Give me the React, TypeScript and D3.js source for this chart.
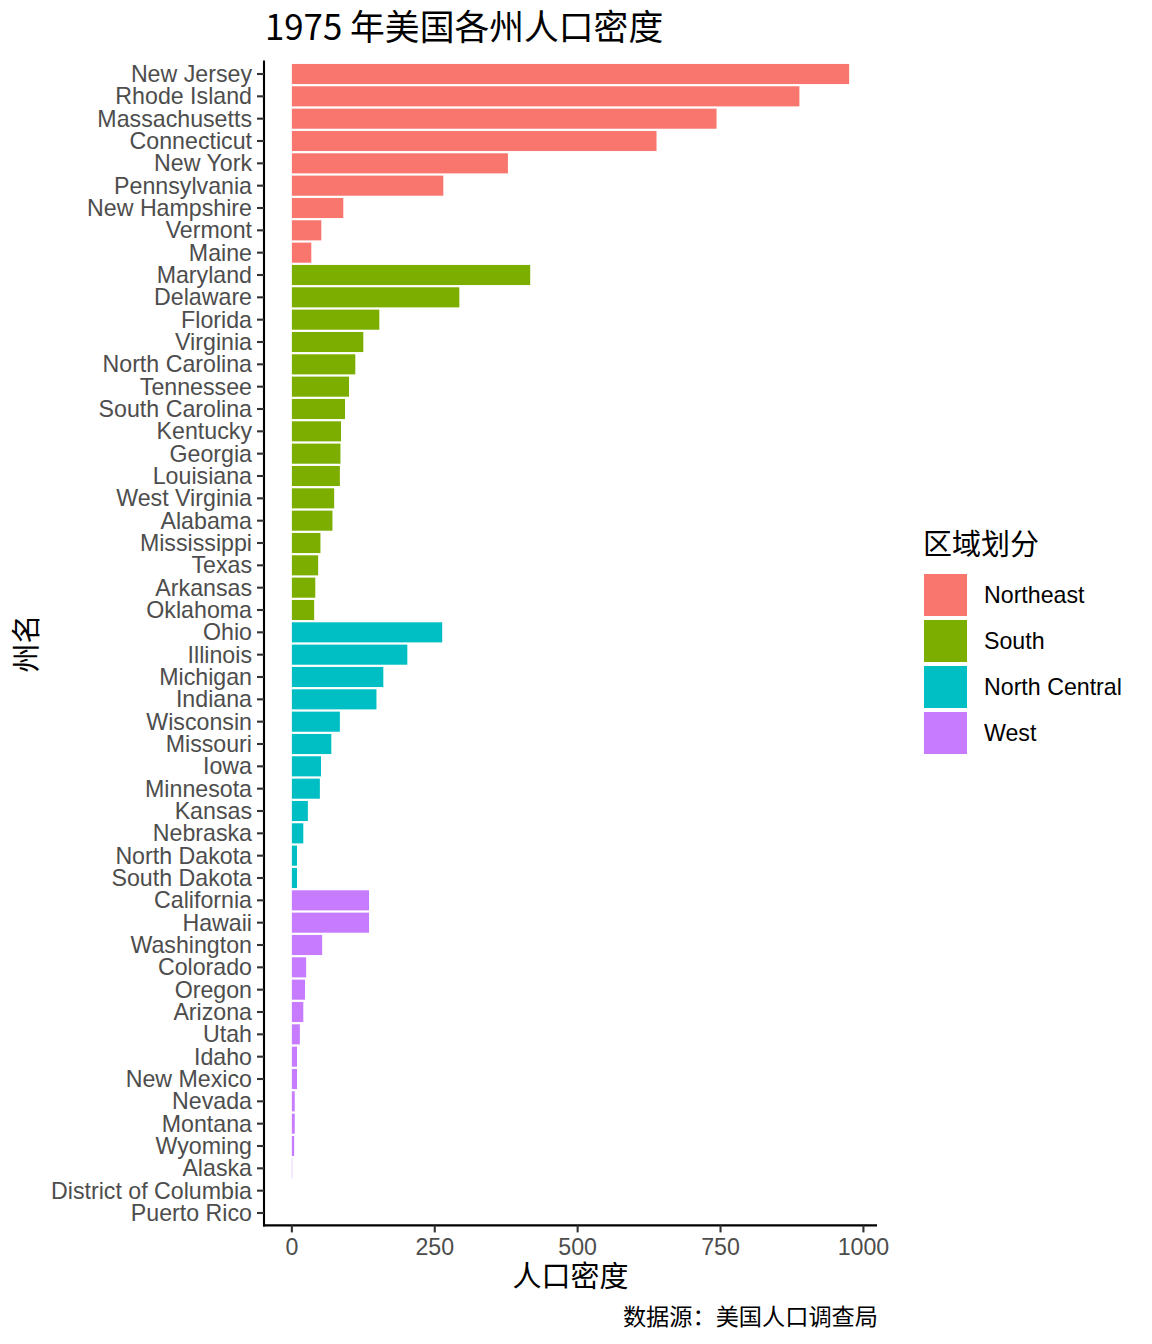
import React from "react";
import * as d3 from "d3";

// 1975 population density by state (people per square mile), grouped by region
const states = [
  "New Jersey", "Rhode Island", "Massachusetts", "Connecticut", "New York",
  "Pennsylvania", "New Hampshire", "Vermont", "Maine",
  "Maryland", "Delaware", "Florida", "Virginia", "North Carolina", "Tennessee",
  "South Carolina", "Kentucky", "Georgia", "Louisiana", "West Virginia",
  "Alabama", "Mississippi", "Texas", "Arkansas", "Oklahoma",
  "Ohio", "Illinois", "Michigan", "Indiana", "Wisconsin", "Missouri", "Iowa",
  "Minnesota", "Kansas", "Nebraska", "North Dakota", "South Dakota",
  "California", "Hawaii", "Washington", "Colorado", "Oregon", "Arizona", "Utah",
  "Idaho", "New Mexico", "Nevada", "Montana", "Wyoming", "Alaska",
  "District of Columbia", "Puerto Rico",
];

const regionOf = [
  "Northeast", "Northeast", "Northeast", "Northeast", "Northeast",
  "Northeast", "Northeast", "Northeast", "Northeast",
  "South", "South", "South", "South", "South", "South",
  "South", "South", "South", "South", "South",
  "South", "South", "South", "South", "South",
  "North Central", "North Central", "North Central", "North Central",
  "North Central", "North Central", "North Central",
  "North Central", "North Central", "North Central", "North Central", "North Central",
  "West", "West", "West", "West", "West", "West", "West",
  "West", "West", "West", "West", "West", "West",
  null, null,
];

const density: (number | null)[] = [
  975, 888, 743, 638, 378,
  265, 90, 51.5, 34,
  417, 293, 153, 125, 111, 100,
  93, 86, 85, 84, 74,
  71, 50, 46, 41, 39,
  263, 202, 160, 148, 84, 69, 51,
  49, 28, 20, 9, 9,
  135, 135, 53, 25, 23, 20, 14,
  9, 9, 5, 5, 4, 0.6,
  null, null,
];

const regions = ["Northeast", "South", "North Central", "West"];
const regionColors = ["#F8766D", "#7CAE00", "#00BFC4", "#C77CFF"];
const xTicks = [0, 250, 500, 750, 1000];

const W = 1152;
const H = 1344;
const panel = { left: 264, right: 877, top: 60.6, bottom: 1226.4 };

const latin = "'Liberation Sans', Arial, sans-serif";
const cjk = "'Noto Sans CJK SC', 'Noto Sans', sans-serif";

export default function App() {
  const maxVal = d3.max(density, (d) => d ?? 0) as number;
  const pad = maxVal * 0.05;
  const x = d3
    .scaleLinear()
    .domain([0 - pad, maxVal + pad])
    .range([panel.left, panel.right]);

  const y = d3
    .scalePoint<string>()
    .domain(states)
    .range([panel.top, panel.bottom])
    .padding(0.6);
  const barH = y.step() * 0.9;

  const color = d3.scaleOrdinal<string, string>().domain(regions).range(regionColors);

  const rows = states.map((s, i) => ({ state: s, region: regionOf[i], value: density[i] }));

  return (
    <svg
      width={W}
      height={H}
      style={{ position: "absolute", left: 0, top: 0, background: "#fff" }}
    >
      {/* title */}
      <text x={265} y={40} fontFamily={cjk} fontSize={34.8} fill="#000">
        1975 年美国各州人口密度
      </text>

      {/* bars */}
      {rows
        .filter((r) => r.value != null && r.region)
        .map((r) => (
          <rect
            key={r.state}
            x={x(0)}
            y={(y(r.state) as number) - barH / 2}
            width={x(r.value as number) - x(0)}
            height={barH}
            fill={color(r.region as string)}
          />
        ))}

      {/* y axis */}
      <line x1={panel.left} x2={panel.left} y1={panel.top} y2={panel.bottom} stroke="#000" strokeWidth={2.1} />
      {states.map((s) => (
        <g key={s} transform={`translate(0,${y(s)})`}>
          <line x1={panel.left - 7} x2={panel.left} stroke="#333" strokeWidth={2.1} />
          <text
            x={panel.left - 12}
            dy="0.35em"
            textAnchor="end"
            fontFamily={latin}
            fontSize={23.2}
            fill="#4D4D4D"
          >
            {s}
          </text>
        </g>
      ))}

      {/* x axis */}
      <line x1={panel.left - 1} x2={panel.right} y1={panel.bottom - 1} y2={panel.bottom - 1} stroke="#000" strokeWidth={2.1} />
      {xTicks.map((t) => (
        <g key={t} transform={`translate(${x(t)},${panel.bottom - 1})`}>
          <line y1={0} y2={7} stroke="#333" strokeWidth={2.1} />
          <text y={30} textAnchor="middle" fontFamily={latin} fontSize={23.2} fill="#4D4D4D">
            {t}
          </text>
        </g>
      ))}

      {/* axis titles */}
      <text
        x={(panel.left + panel.right) / 2}
        y={1287}
        textAnchor="middle"
        fontFamily={cjk}
        fontSize={29}
        fill="#000"
      >
        人口密度
      </text>
      <text
        transform={`translate(37,${(panel.top + panel.bottom) / 2}) rotate(-90)`}
        textAnchor="middle"
        fontFamily={cjk}
        fontSize={29}
        fill="#000"
      >
        州名
      </text>

      {/* caption */}
      <text x={878} y={1325} textAnchor="end" fontFamily={cjk} fontSize={23.2} fill="#000">
        数据源：美国人口调查局
      </text>

      {/* legend */}
      <text x={923} y={555} fontFamily={cjk} fontSize={29} fill="#000">
        区域划分
      </text>
      {regions.map((r, i) => (
        <g key={r} transform={`translate(924,${574 + i * 46})`}>
          <rect width={43} height={42} fill={color(r)} />
          <text x={60} y={21} dy="0.35em" fontFamily={latin} fontSize={23.2} fill="#000">
            {r}
          </text>
        </g>
      ))}
    </svg>
  );
}
